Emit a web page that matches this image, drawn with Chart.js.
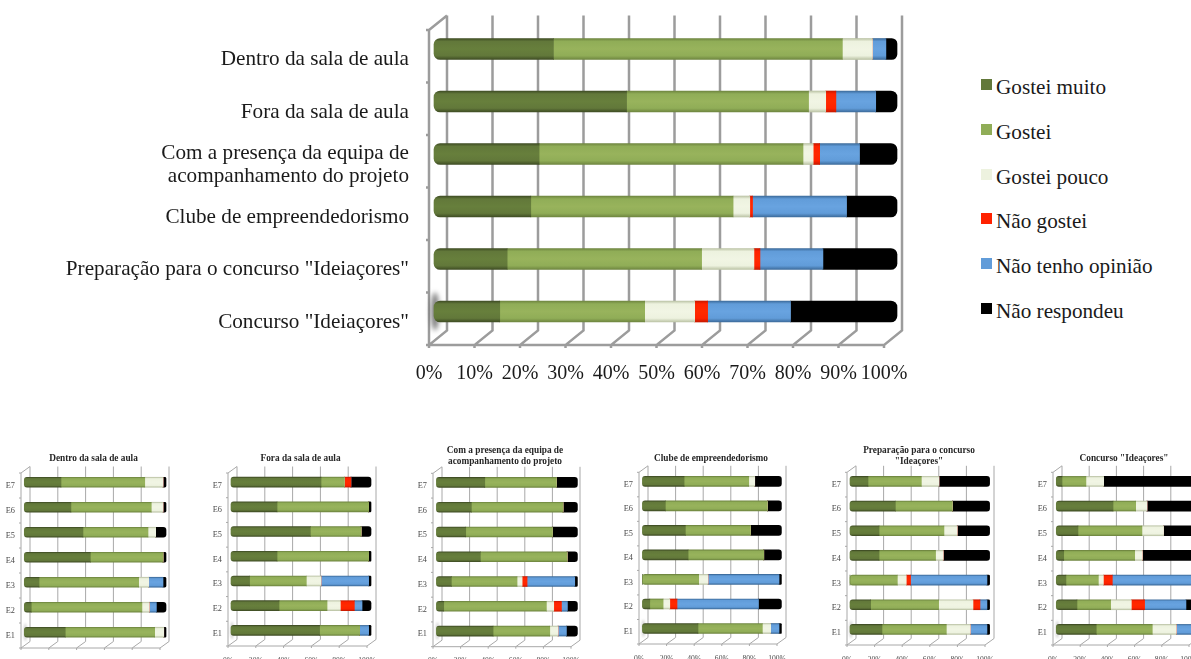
<!DOCTYPE html>
<html lang="pt-br">

<head>
    <meta charset="UTF-8">
    <title>Avaliação das atividades</title>
    <script src="https://cdn.jsdelivr.net/npm/chart.js"></script>
    <style>
        html, body { margin: 0; width: 1191px; height: 659px; overflow: hidden; background: #fff; }
        canvas { position: absolute; }
        .item-legenda { position: absolute; left: 981px; font: 21.2px "Liberation Serif", serif; color: #1a1a1a; white-space: nowrap; line-height: 24px; }
        .item-legenda span { display: inline-block; width: 11px; height: 11px; margin-right: 4px; position: relative; top: -4px; }
    </style>
</head>

<body>
    <canvas id="geral"></canvas>
    <canvas id="dentro"></canvas>
    <canvas id="fora"></canvas>
    <canvas id="equipa"></canvas>
    <canvas id="clube"></canvas>
    <canvas id="preparacao"></canvas>
    <canvas id="concurso"></canvas>
    <div id="legenda"></div>
</body>

<script>
    var series = ['Gostei muito', 'Gostei', 'Gostei pouco', 'Não gostei', 'Não tenho opinião', 'Não respondeu'];
    var cores = ['#62783a', '#90ad57', '#edf2df', '#ff2200', '#619cd9', '#000000'];
    var coresClaras = ['#677f3c', '#98b35c', '#f1f5e4', '#ff2a00', '#68a3e0', '#000000'];
    var coresBorda = ['#3f4d24', '#6f8640', '#bcc4a6', '#c81a00', '#3d6c9c', '#000000'];

    var categoriasGeral = ['Dentro da sala de aula', 'Fora da sala de aula',
        ['Com a presença da equipa de', 'acompanhamento do projeto'], 'Clube de empreendedorismo',
        'Preparação para o concurso "Ideiaçores"', 'Concurso "Ideiaçores"'];
    var categoriasEscolas = ['E7', 'E6', 'E5', 'E4', 'E3', 'E2', 'E1'];
    var ticksGeral = [0, 10, 20, 30, 40, 50, 60, 70, 80, 90, 100];
    var ticksEscolas = [0, 20, 40, 60, 80, 100];

    // cada linha é uma categoria, na ordem de "series"
    var valoresGeral = [
        [25.8, 62.4, 6.5, 0, 2.9, 2.4],
        [41.6, 39.3, 3.7, 2.2, 8.6, 4.6],
        [22.7, 57, 2.2, 1.4, 8.6, 8.1],
        [20.9, 43.7, 3.6, 0.6, 20.3, 10.9],
        [15.8, 42, 11.3, 1.3, 13.6, 16],
        [14.2, 31.3, 10.8, 2.8, 17.9, 23]
    ];
    var valoresDentro = [
        [25.9, 59.1, 12.9, 0, 0, 2.1],
        [32.9, 56.7, 8.3, 0, 0, 2.1],
        [41.4, 45.9, 5.4, 0, 0, 7.3],
        [46.6, 51.3, 0, 0, 0, 2.1],
        [10.4, 70.3, 7.1, 0, 10.1, 2.1],
        [4.9, 78.1, 5.2, 0, 5, 6.8],
        [28.9, 63.1, 6.4, 0, 0, 1.6]
    ];
    var valoresFora = [
        [64.3, 16.7, 0, 4.7, 0, 14.3],
        [32.9, 65.4, 0, 0, 0, 1.7],
        [56.7, 36.2, 0, 0, 0, 7.1],
        [32.9, 65.4, 0, 0, 0, 1.7],
        [13.3, 40.5, 10.5, 0, 34, 1.7],
        [34.3, 34.3, 9.5, 10, 5.5, 6.4],
        [63.3, 28.6, 0, 0, 6.4, 1.7]
    ];
    var valoresEquipa = [
        [34.3, 50.8, 0, 0, 0, 14.9],
        [24.8, 65, 0, 0, 0, 10.2],
        [20.8, 61.5, 0, 0, 0, 17.7],
        [31.2, 61.5, 0, 0, 0, 7.3],
        [10.6, 46.6, 3.6, 3.5, 33.8, 1.9],
        [5.2, 72.8, 5.2, 5.5, 4.2, 7.1],
        [40.2, 40.2, 5.9, 0, 5.9, 7.8]
    ];
    var valoresClube = [
        [30, 46.5, 4.3, 0, 0, 19.2],
        [16.5, 73.4, 0, 0, 0, 10.1],
        [30.9, 46.8, 0, 0, 0, 22.3],
        [32.9, 54.4, 0, 0, 0, 12.7],
        [0, 40.5, 6.7, 0, 51.1, 1.7],
        [5.3, 9.6, 4.8, 5.2, 58.6, 16.5],
        [40, 46.3, 6, 0, 6, 1.7]
    ];
    var valoresPreparacao = [
        [12.9, 38.2, 12.6, 0, 0, 36.3],
        [32.5, 40.8, 0, 0, 0, 26.7],
        [20.8, 46.5, 9.5, 0, 0, 23.2],
        [20.8, 40.5, 5.5, 0, 0, 33.2],
        [0, 33.9, 6.4, 3.1, 54.7, 1.9],
        [14.8, 48.7, 24.6, 5, 5, 1.9],
        [22.9, 46.1, 17.2, 0, 11.9, 1.9]
    ];
    var valoresConcurso = [
        [4.1, 17.1, 12.7, 0, 0, 66.1],
        [40.6, 16.2, 8.1, 0, 0, 35.1],
        [15.5, 45.8, 15.5, 0, 0, 23.2],
        [5.3, 50.8, 5.5, 0, 0, 38.4],
        [6.9, 23.2, 3.6, 6.4, 57.9, 1.9],
        [14.8, 24.1, 14.8, 9.5, 29.6, 7.2],
        [28.6, 40.1, 17.2, 0, 12.2, 1.9]
    ];

    // parede e chão falsos do gráfico 3D do Excel
    var grade3d = {
        id: 'grade3d',
        afterLayout: function (chart) {
            if (chart.titleBlock) {
                chart.titleBlock.left += 3;
                chart.titleBlock.right += 3;
            }
        },
        beforeDatasetsDraw: function (chart, args, op) {
            var ctx = chart.ctx;
            var x = chart.scales.x;
            var y = chart.scales.y;
            var topo = y.top, base = y.bottom, esq = x.left;

            ctx.save();
            ctx.strokeStyle = op.cor;
            ctx.lineWidth = op.largura;
            ctx.beginPath();
            op.ticks.forEach(function (v) {
                var px = x.getPixelForValue(v);
                ctx.moveTo(px + op.dx, topo + op.dy);
                ctx.lineTo(px + op.dx, base + op.dy);
                ctx.lineTo(px, base);
                ctx.lineTo(px, base + op.marca);
            });
            ctx.moveTo(esq, topo);
            ctx.lineTo(esq, base);
            ctx.lineTo(x.right, base);
            ctx.moveTo(esq, topo);
            ctx.lineTo(esq + op.dx, topo + op.dy);
            for (var i = 0; i <= y.ticks.length; i++) {
                var py = topo + i * (base - topo) / y.ticks.length;
                ctx.moveTo(esq - op.marca, py);
                ctx.lineTo(esq, py);
            }
            ctx.stroke();

            // borrão cinza que existe na ponta da última barra
            var fim = y.getPixelForValue(y.ticks.length - 1) + op.sobeBarra;
            var pontaBarra = op.barraEsq - op.canvasEsq;
            ctx.filter = 'blur(' + op.barra * 0.12 + 'px)';
            ctx.fillStyle = 'rgba(70,70,70,' + op.mancha + ')';
            ctx.beginPath();
            ctx.ellipse(pontaBarra + 1, fim, op.barra * 0.2, op.barra * 0.9, 0, 0, Math.PI * 2);
            ctx.fill();
            ctx.restore();

            // as barras ficam no meio da profundidade
            var k = (op.barraDir - op.barraEsq) / (x.right - x.left);
            ctx.save();
            ctx.translate(pontaBarra - x.left * k, op.sobeBarra);
            ctx.scale(k, 1);
        },
        afterDatasetsDraw: function (chart) {
            chart.ctx.restore();
        }
    };

    function montarDatasets(linhas, larguraBarra) {
        return series.map(function (nome, s) {
            return {
                label: nome,
                data: linhas.map(function (linha) { return linha[s]; }),
                barThickness: larguraBarra,
                clip: false,
                borderSkipped: false,
                backgroundColor: function (c) {
                    var centro = c.chart.scales.y ? c.chart.scales.y.getPixelForValue(c.dataIndex) : NaN;
                    if (!isFinite(centro)) {
                        return cores[s];
                    }
                    var g = c.chart.ctx.createLinearGradient(0, centro - larguraBarra / 2, 0, centro + larguraBarra / 2);
                    g.addColorStop(0, coresBorda[s]);
                    g.addColorStop(0.14, cores[s]);
                    g.addColorStop(0.5, coresClaras[s]);
                    g.addColorStop(0.82, cores[s]);
                    g.addColorStop(1, coresBorda[s]);
                    return g;
                },
                borderRadius: function (c) {
                    var linha = linhas[c.dataIndex];
                    if (!linha) {
                        return 0;
                    }
                    var r = larguraBarra * 0.3;
                    var antes = linha.slice(0, s).some(function (v) { return v > 0; });
                    var depois = linha.slice(s + 1).some(function (v) { return v > 0; });
                    return {
                        topLeft: antes ? 0 : r, bottomLeft: antes ? 0 : r,
                        topRight: depois ? 0 : r, bottomRight: depois ? 0 : r
                    };
                }
            };
        });
    }

    function criarGrafico(id, categorias, linhas, ticks, g) {
        var canvas = document.getElementById(id);
        canvas.width = g.largura;
        canvas.height = g.altura;
        canvas.style.left = g.esq + 'px';
        canvas.style.top = g.topo + 'px';
        canvas.style.filter = 'blur(' + g.blur + 'px)';

        var titulo = { display: false };
        var folgaTopo = g.y0 - g.topo;
        if (g.titulo) {
            var linhasTitulo = Array.isArray(g.titulo) ? g.titulo.length : 1;
            folgaTopo = g.tituloY - g.topo;
            titulo = {
                display: true,
                text: g.titulo,
                fullSize: false,
                color: '#262626',
                font: { family: '"Liberation Serif"', size: 9.3, weight: 'bold', lineHeight: 1.18 },
                padding: { top: 0, bottom: g.y0 - g.tituloY - linhasTitulo * 9.3 * 1.18 }
            };
        }

        new Chart(canvas, {
            type: 'bar',
            data: { labels: categorias, datasets: montarDatasets(linhas, g.barra) },
            options: {
                indexAxis: 'y',
                responsive: false,
                animation: false,
                layout: { padding: { left: 0, top: folgaTopo, right: g.esq + g.largura - g.x100, bottom: 0 } },
                plugins: {
                    legend: { display: false },
                    tooltip: { enabled: false },
                    title: titulo,
                    grade3d: {
                        ticks: ticks, dx: g.dx, dy: g.dy, cor: g.corGrade, largura: g.linha, marca: g.marca, mancha: g.mancha,
                        canvasEsq: g.esq, barraEsq: g.barraEsq, barraDir: g.barraDir, barra: g.barra, sobeBarra: g.dy / 2
                    }
                },
                scales: {
                    x: {
                        stacked: true,
                        min: 0,
                        max: 100,
                        afterFit: function (s) { s.height = g.topo + g.altura - g.y1; },
                        afterBuildTicks: function (s) { s.ticks = ticks.map(function (v) { return { value: v }; }); },
                        grid: { display: false, drawTicks: false },
                        border: { display: false },
                        ticks: {
                            autoSkip: false, maxRotation: 0, padding: g.padX, color: g.corTexto,
                            font: { family: '"Liberation Serif"', size: g.fonteX },
                            callback: function (v) { return v + '%'; }
                        }
                    },
                    y: {
                        stacked: true,
                        afterFit: function (s) { s.width = g.x0 - g.esq; },
                        grid: { display: false, drawTicks: false },
                        border: { display: false },
                        ticks: {
                            autoSkip: false, padding: g.padY, color: g.corTexto, labelOffset: g.descerRotulo,
                            font: { family: '"Liberation Serif"', size: g.fonteY, lineHeight: 1.1 }
                        }
                    }
                }
            },
            plugins: [grade3d]
        });
    }

    function geometriaPequena(x0, x100, y0, y1, barraEsq, barraDir, titulo, tituloY) {
        return {
            esq: x0 - 22, topo: 440, largura: x100 - x0 + 22 + 30, altura: 240,
            x0: x0, x100: x100, y0: y0, y1: y1, dx: 9, dy: -6.5,
            barraEsq: barraEsq, barraDir: barraDir, barra: 10,
            titulo: titulo, tituloY: tituloY,
            corGrade: '#a8a8a8', linha: 1, marca: 2, blur: 0.7, mancha: 0.2,
            corTexto: '#4a4a4a', fonteX: 7.6, fonteY: 8.3, padX: 10, padY: 6, descerRotulo: 0
        };
    }

    // topo negativo: o canvas sobra para cima porque o rótulo de duas linhas empurra a área do gráfico
    criarGrafico('geral', categoriasGeral, valoresGeral, ticksGeral, {
        esq: 0, topo: -10, largura: 960, altura: 410,
        x0: 429, x100: 884, y0: 30, y1: 345, dx: 18, dy: -14.5,
        barraEsq: 434, barraDir: 897, barra: 21,
        corGrade: '#9c9c9c', linha: 2.5, marca: 3, blur: 0.4, mancha: 0.7,
        corTexto: '#1a1a1a', fonteX: 20, fonteY: 21.2, padX: 17, padY: 20, descerRotulo: 3.5
    });

    criarGrafico('dentro', categoriasEscolas, valoresDentro, ticksEscolas,
        geometriaPequena(20.7, 160, 473, 648, 24, 165.7, 'Dentro da sala de aula', 453));
    criarGrafico('fora', categoriasEscolas, valoresFora, ticksEscolas,
        geometriaPequena(227.7, 366.7, 473, 646, 230.7, 370.7, 'Fora da sala de aula', 453));
    criarGrafico('equipa', categoriasEscolas, valoresEquipa, ticksEscolas,
        geometriaPequena(433.3, 571.7, 473.3, 646.7, 436.7, 577.7, ['Com a presença da equipa de', 'acompanhamento do projeto'], 445));
    criarGrafico('clube', categoriasEscolas, valoresClube, ticksEscolas,
        geometriaPequena(639.3, 777.3, 472.3, 644, 642.7, 781.7, 'Clube de empreendedorismo', 453));
    criarGrafico('preparacao', categoriasEscolas, valoresPreparacao, ticksEscolas,
        geometriaPequena(846.7, 985, 472.3, 645, 849.7, 989.3, ['Preparação para o concurso', '"Ideaçores"'], 445));
    criarGrafico('concurso', categoriasEscolas, valoresConcurso, ticksEscolas,
        geometriaPequena(1052.7, 1188.7, 472.3, 645, 1056, 1195.7, 'Concurso "Ideaçores"', 453));

    // legenda fora do canvas, cada item no lugar dele
    var legenda = document.getElementById('legenda');
    series.forEach(function (nome, i) {
        var item = document.createElement('div');
        item.className = 'item-legenda';
        item.style.top = (75 + i * 44.75) + 'px';
        item.innerHTML = '<span style="background:' + cores[i] + '"></span>' + nome;
        legenda.appendChild(item);
    });
</script>

</html>
